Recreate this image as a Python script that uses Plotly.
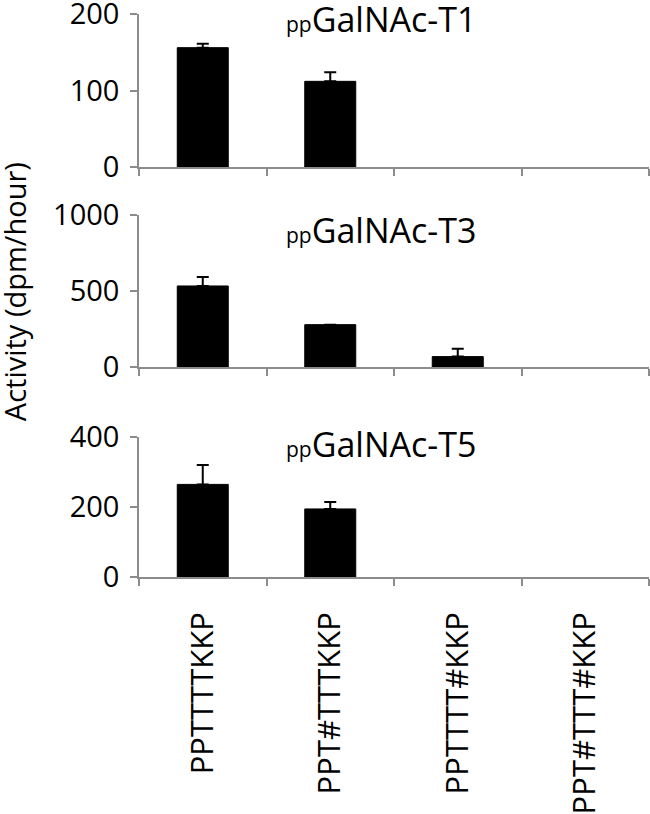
import plotly.graph_objects as go
from plotly.subplots import make_subplots

# Data
peptides = ["PPTTTTKKP", "PPT#TTTKKP", "PPTTTT#KKP", "PPT#TTT#KKP"]
enzymes = ["T1", "T3", "T5"]
t1_vals = [156, 112, None, None]
t1_err = [5, 12, 0, 0]
t3_vals = [534, 280, 70, None]
t3_err = [59, 0, 52, 0]
t5_vals = [264, 194, None, None]
t5_err = [55, 20, 0, 0]
y_ranges = [200, 1000, 400]
y_dticks = [100, 500, 200]

series = [(t1_vals, t1_err), (t3_vals, t3_err), (t5_vals, t5_err)]

FONT = "Open Sans"
AXIS_COLOR = "#8c8c8c"

fig = make_subplots(rows=3, cols=1, shared_xaxes=True)

for i, (vals, err) in enumerate(series):
    fig.add_trace(go.Bar(
        x=peptides,
        y=vals,
        marker=dict(color="black", line=dict(color="black", width=1)),
        error_y=dict(type="data", array=err, symmetric=False,
                     arrayminus=[0] * len(err), color="black",
                     thickness=2, width=6),
        showlegend=False,
    ), row=i + 1, col=1)

# panel domains (paper fractions) taken from the reference pixel layout
domains = [[0.7282, 1.0], [0.3725, 0.643], [0.0, 0.2492]]
title_y = [0.965, 0.9, 0.95]

for i in range(3):
    fig.update_yaxes(
        domain=domains[i], range=[0, y_ranges[i]], dtick=y_dticks[i],
        showline=True, linecolor=AXIS_COLOR, linewidth=1.5,
        ticks="outside", ticklen=7, tickcolor=AXIS_COLOR, tickwidth=1.5,
        showgrid=False, zeroline=False, automargin=False,
        ticklabeloverflow="allow", ticklabelstandoff=5,
        tickfont=dict(family=FONT, size=29, color="black"),
        row=i + 1, col=1)
    fig.update_xaxes(
        showline=True, linecolor=AXIS_COLOR, linewidth=1.5,
        ticks="outside", ticklen=7, tickcolor=AXIS_COLOR, tickwidth=1.5,
        tickson="boundaries", showgrid=False, range=[-0.5, 3.5],
        showticklabels=(i == 2), tickangle=-90, automargin=False,
        ticklabelstandoff=21,
        tickfont=dict(family=FONT, size=31, color="black"),
        row=i + 1, col=1)
    axis_n = "" if i == 0 else str(i + 1)
    fig.add_annotation(
        text="<span style='font-size:21px'>pp</span>GalNAc-" + enzymes[i],
        xref="x" + axis_n + " domain", yref="y" + axis_n + " domain",
        x=0.475, y=title_y[i], xanchor="center", yanchor="middle",
        showarrow=False, font=dict(family=FONT, size=34, color="black"))

fig.add_annotation(
    text="Activity (dpm/hour)", textangle=-90,
    xref="paper", yref="paper", x=-0.245, y=0.506,
    xanchor="center", yanchor="middle", showarrow=False,
    font=dict(family=FONT, size=29, color="black"))

fig.update_layout(
    width=650, height=814,
    margin=dict(l=139, r=1, t=14, b=237, autoexpand=False),
    bargap=0.6,
    plot_bgcolor="white", paper_bgcolor="white",
)

# remove the default page margin so the figure sits at the window origin
fig.write_html("out.html", config={"displayModeBar": False},
               post_script="document.body.style.margin='0';")
